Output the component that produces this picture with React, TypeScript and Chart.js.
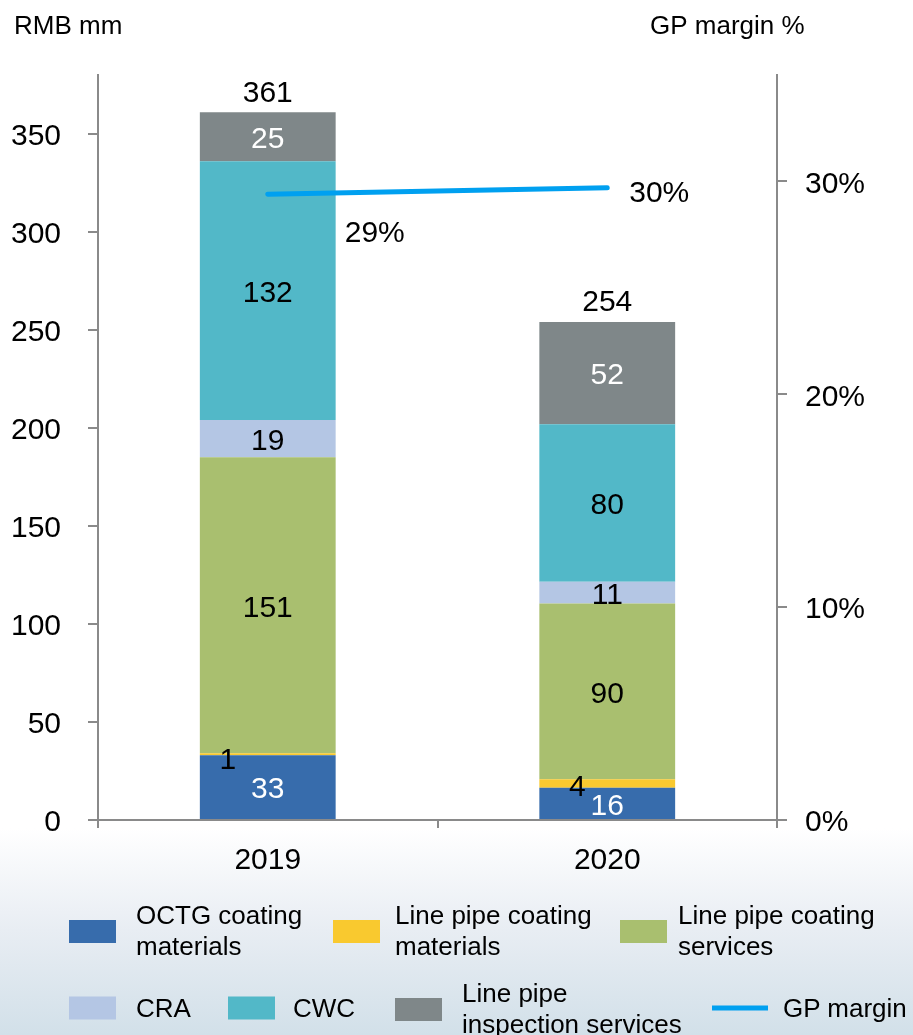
import React, { useEffect, useRef } from "react";
import { Chart, registerables } from "chart.js";

Chart.register(...registerables);

// ---- data ----
const categories = ["2019", "2020"];
const octgCoatingMaterials = [33, 16.4];
const linePipeCoatingMaterials = [1, 4.4];
const linePipeCoatingServices = [151, 89.6];
const craValues = [19, 11.1];
const cwcValues = [132, 80.3];
const linePipeInspection = [25, 52.2];
const gpMargin = [29.4, 29.7];
const leftTicks = [0, 50, 100, 150, 200, 250, 300, 350];
const rightTicks = [0, 10, 20, 30];

const FONT = "'Liberation Sans', Arial, Helvetica, sans-serif";
const AXIS_GREY = "#8a8a8a";
const LABEL_SIZE = 30;
// glyphs sit slightly low relative to the em-box middle
const TEXT_DROP = 3;

type Series = {
  label: string[];
  data: number[];
  color: string;
  textColor: string;
  shift?: [number, number][];
};

const barSeries: Series[] = [
  { label: ["OCTG coating", "materials"], data: octgCoatingMaterials, color: "#376CAC", textColor: "#ffffff" },
  {
    label: ["Line pipe coating", "materials"],
    data: linePipeCoatingMaterials,
    color: "#F9C92F",
    textColor: "#000000",
    shift: [[-40, 3], [-30, 1]],
  },
  { label: ["Line pipe coating", "services"], data: linePipeCoatingServices, color: "#A9BF6F", textColor: "#000000" },
  { label: ["CRA"], data: craValues, color: "#B4C6E4", textColor: "#000000" },
  { label: ["CWC"], data: cwcValues, color: "#52B8C8", textColor: "#000000" },
  { label: ["Line pipe", "inspection services"], data: linePipeInspection, color: "#7F8789", textColor: "#ffffff" },
];
const lineColor = "#00A0F0";
// per-point placement of the margin labels, relative to the line point
const marginLabelShift: [number, number][] = [[77, 37], [22, 3]];

const valueLabels = {
  id: "valueLabels",
  afterDatasetsDraw(chart: any) {
    const ctx = chart.ctx;
    ctx.save();
    ctx.font = `${LABEL_SIZE}px ${FONT}`;
    ctx.textBaseline = "middle";
    const tops: number[] = [];
    chart.data.datasets.forEach((ds: any, di: number) => {
      const meta = chart.getDatasetMeta(di);
      if (meta.type === "bar") {
        const s = barSeries[di];
        meta.data.forEach((el: any, i: number) => {
          const { x, y, base } = el.getProps(["x", "y", "base"], true);
          tops[i] = tops[i] === undefined ? y : Math.min(tops[i], y);
          const sh = s.shift ? s.shift[i] : [0, 0];
          ctx.fillStyle = s.textColor;
          ctx.textAlign = "center";
          ctx.fillText(Math.round(ds.data[i]).toString(), x + sh[0], (y + base) / 2 + sh[1] + TEXT_DROP);
        });
      } else {
        meta.data.forEach((el: any, i: number) => {
          const sh = marginLabelShift[i];
          ctx.fillStyle = "#000000";
          ctx.textAlign = "left";
          ctx.fillText(`${Math.round(ds.data[i])}%`, el.x + sh[0], el.y + sh[1] + TEXT_DROP);
        });
      }
    });
    // stack totals above each bar
    const barMeta = chart.getDatasetMeta(0);
    categories.forEach((_, i) => {
      const total = barSeries.reduce((acc, s) => acc + s.data[i], 0);
      ctx.fillStyle = "#000000";
      ctx.textAlign = "center";
      ctx.fillText(Math.round(total).toString(), barMeta.data[i].x, tops[i] - 22 + TEXT_DROP);
    });
    // axis captions
    ctx.font = `26px ${FONT}`;
    ctx.textAlign = "left";
    ctx.fillText("RMB mm", 14, 25 + 2);
    ctx.fillText("GP margin %", 650, 25 + 2);
    ctx.restore();
  },
};

// an empty leading line nudges single-line tick labels down by half the line height
const dropLabel = (text: string) => ["", text];

export default function App() {
  const canvasRef = useRef<HTMLCanvasElement | null>(null);

  useEffect(() => {
    if (!canvasRef.current) return;
    Chart.defaults.font.family = FONT;
    const tickFont = { size: LABEL_SIZE, lineHeight: `${TEXT_DROP * 2}px` };
    const chart = new Chart(canvasRef.current, {
      type: "bar",
      data: {
        labels: categories,
        datasets: [
          ...barSeries.map((s) => ({
            type: "bar" as const,
            label: s.label.join(" "),
            data: s.data,
            backgroundColor: s.color,
            borderWidth: 0,
            yAxisID: "y",
            order: 1,
            barPercentage: 0.4,
            categoryPercentage: 1,
          })),
          {
            type: "line" as const,
            label: "GP margin",
            data: gpMargin,
            borderColor: lineColor,
            borderWidth: 5,
            borderCapStyle: "round" as const,
            pointRadius: 0,
            yAxisID: "y1",
            order: 0,
          },
        ],
      },
      options: {
        responsive: false,
        animation: false,
        layout: { padding: { top: 75, left: 0, right: 0, bottom: 0 } },
        plugins: { legend: { display: false }, tooltip: { enabled: false } },
        scales: {
          x: {
            stacked: true,
            offset: true,
            grid: { display: true, drawOnChartArea: false, offset: true, tickLength: 8, color: AXIS_GREY, lineWidth: 2 },
            border: { color: AXIS_GREY, width: 2 },
            ticks: { font: { size: LABEL_SIZE }, color: "#000", padding: 15 },
            afterFit: (s: any) => {
              s.height = 215;
            },
          },
          y: {
            position: "left",
            stacked: true,
            min: 0,
            max: 380,
            afterBuildTicks: (s: any) => {
              s.ticks = leftTicks.map((v) => ({ value: v }));
            },
            grid: { drawOnChartArea: false, tickLength: 10, color: AXIS_GREY, lineWidth: 2 },
            border: { color: AXIS_GREY, width: 2 },
            ticks: { font: tickFont, color: "#000", padding: 27, callback: (v: any) => dropLabel(`${v}`) },
            afterFit: (s: any) => {
              s.width = 98;
            },
          },
          y1: {
            position: "right",
            min: 0,
            max: 35,
            afterBuildTicks: (s: any) => {
              s.ticks = rightTicks.map((v) => ({ value: v }));
            },
            grid: { drawOnChartArea: false, tickLength: 10, color: AXIS_GREY, lineWidth: 2 },
            border: { color: AXIS_GREY, width: 2 },
            ticks: { font: tickFont, color: "#000", padding: 18, callback: (v: any) => dropLabel(`${v}%`) },
            afterFit: (s: any) => {
              s.width = 136;
            },
          },
        },
      },
      plugins: [valueLabels],
    } as any);
    return () => chart.destroy();
  }, []);

  const legendItem = (
    key: string,
    left: number,
    centerY: number,
    marker: React.ReactNode,
    gap: number,
    lines: string[]
  ) => (
    <div
      key={key}
      style={{
        position: "absolute",
        left,
        top: centerY,
        transform: "translateY(-50%)",
        display: "flex",
        alignItems: "center",
        gap,
      }}
    >
      {marker}
      <div style={{ fontFamily: FONT, fontSize: 26, lineHeight: "31px", color: "#000", whiteSpace: "nowrap" }}>
        {lines.map((l) => (
          <div key={l}>{l}</div>
        ))}
      </div>
    </div>
  );

  const swatch = (c: string) => <div style={{ width: 47, height: 23, background: c, flex: "none" }} />;

  // legend layout: [left, centerY] for each bar series
  const legendSpots: [number, number][] = [
    [69, 931],
    [333, 931],
    [620, 931],
    [69, 1008],
    [228, 1008],
    [395, 1009],
  ];
  const legendGaps = [20, 15, 11, 20, 18, 20];

  return (
    <div
      style={{
        position: "absolute",
        left: 0,
        top: 0,
        width: 913,
        height: 1035,
        overflow: "hidden",
        background: "linear-gradient(to bottom, #ffffff 0px, #ffffff 828px, #e8edf3 930px, #d2e0e9 1035px)",
      }}
    >
      <canvas ref={canvasRef} width={913} height={1035} style={{ display: "block", position: "absolute", left: 0, top: 0 }} />
      {barSeries.map((s, i) =>
        legendItem(`s${i}`, legendSpots[i][0], legendSpots[i][1], swatch(s.color), legendGaps[i], s.label)
      )}
      {legendItem(
        "gp",
        712,
        1008,
        <div style={{ width: 56, height: 5, background: lineColor, flex: "none" }} />,
        15,
        ["GP margin"]
      )}
    </div>
  );
}
